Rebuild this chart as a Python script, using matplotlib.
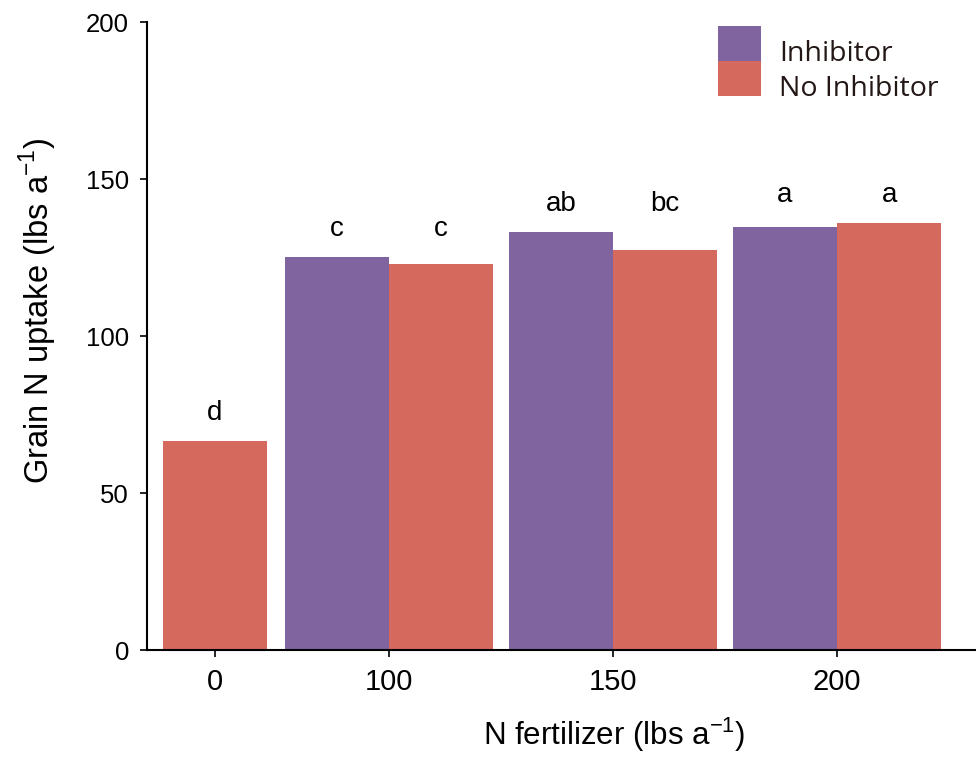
import matplotlib.pyplot as plt
import numpy as np

plt.rcParams['font.family'] = ['Liberation Sans', 'DejaVu Sans']
plt.rcParams['mathtext.fontset'] = 'custom'
plt.rcParams['mathtext.rm'] = 'Liberation Sans'

# data
rates = ['0', '100', '150', '200']
inhibitor = [np.nan, 125.2, 133.1, 134.8]
no_inhibitor = [66.6, 122.9, 127.4, 135.9]
letters_inh = ['', 'c', 'ab', 'a']
letters_no = ['d', 'c', 'bc', 'a']

purple = '#8064a0'
red = '#d5695d'

# group centres (the 0 rate has only one bar, centred on its tick)
xpos = np.array([0.223, 1.0, 2.0, 3.0])
w = 0.465

fig = plt.figure(figsize=(9.76, 7.57), dpi=100)
ax = fig.add_axes([0.1506, 0.1413, 0.8494, 0.8296])

# Inhibitor bars sit left of the tick, No Inhibitor right; rate 0 is centred
inh_x = xpos - w / 2
no_x = np.where(np.isnan(inhibitor), xpos, xpos + w / 2)
ax.bar(inh_x[1:], inhibitor[1:], width=w, color=purple, label='Inhibitor')
ax.bar(no_x, no_inhibitor, width=w, color=red, label='No Inhibitor')

# significance letters, placed above the taller bar of each group
for i in range(len(rates)):
    top = np.nanmax([inhibitor[i], no_inhibitor[i]])
    if letters_inh[i]:
        ax.annotate(letters_inh[i], (inh_x[i], top), xytext=(0, 15),
                    textcoords='offset points', ha='center', va='baseline', fontsize=20)
    ax.annotate(letters_no[i], (no_x[i], top), xytext=(0, 15),
                textcoords='offset points', ha='center', va='baseline', fontsize=20)

ax.set_xlim(-0.08, 3.62)
ax.set_ylim(0, 200)
ax.set_xticks(xpos)
ax.set_xticklabels(rates)
ax.set_yticks([0, 50, 100, 150, 200])

for s in ['top', 'right']:
    ax.spines[s].set_visible(False)
ax.spines['left'].set_linewidth(1.5)
ax.spines['bottom'].set_linewidth(1.5)
ax.tick_params(axis='both', length=5, width=1.2, colors='black')
ax.tick_params(axis='y', labelsize=18.5, pad=8)
ax.tick_params(axis='x', labelsize=21, pad=8)

ax.set_xlabel('N fertilizer (lbs a$^{-1}$)', fontsize=22.5)
ax.set_ylabel('Grain N uptake (lbs a$^{-1}$)', fontsize=23.5)
ax.xaxis.set_label_coords(0.563, -0.105)
ax.yaxis.set_label_coords(-0.106, 0.54)

leg = ax.legend(loc='upper left', bbox_to_anchor=(718 / 976, 1 - 34 / 757),
                bbox_transform=fig.transFigure, frameon=False,
                prop={'family': ['Open Sans', 'DejaVu Sans'], 'size': 20.5},
                handlelength=1.52, handleheight=1.52, handletextpad=0.62,
                labelspacing=0.0, borderpad=0.0, borderaxespad=0.0,
                labelcolor='#231815')
# raise the swatches a little so the labels sit near their middle
for h in leg.legend_handles:
    h.set_y(h.get_y() + 6)

fig.savefig('out.png', dpi=100)
